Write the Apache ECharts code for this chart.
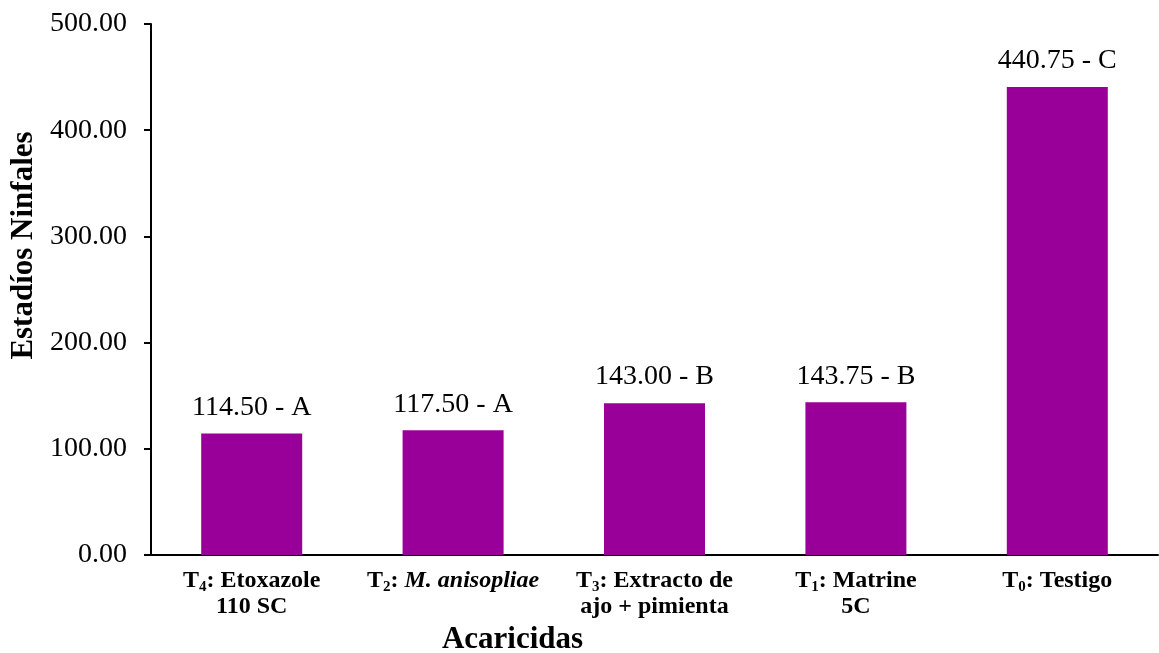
<!DOCTYPE html>
<html>
<head>
<meta charset="utf-8">
<script src="https://cdn.jsdelivr.net/npm/echarts@6/dist/echarts.min.js"></script>
<style>html,body{margin:0;padding:0;background:#fff}#c{width:1159px;height:653px}</style>
</head>
<body>
<div id="c"></div>
<script>
var categories = ['T4: Etoxazole\n110 SC', 'T2: M. anisopliae', 'T3: Extracto de\najo + pimienta', 'T1: Matrine\n5C', 'T0: Testigo'];
var values = [114.50, 117.50, 143.00, 143.75, 440.75];
var groups = ['A', 'A', 'B', 'B', 'C'];
var yTicks = [0, 100, 200, 300, 400, 500];

var FONT = '"Liberation Serif", "Times New Roman", serif';
function fmtCat(s) {
  var m = s.match(/^T(\d): ([\s\S]*)$/);
  if (!m) return s;
  var rest = m[2];
  if (rest.indexOf('M. anisopliae') === 0) {
    return '{b|T}{sub|' + m[1] + '}{b|: }{it|' + rest + '}';
  }
  var lines = rest.split('\n').map(function (l) { return '{b|' + l + '}'; });
  lines[0] = '{b|T}{sub|' + m[1] + '}{b|: }' + lines[0];
  return lines.join('\n');
}
var chart = echarts.init(document.getElementById('c'), null, {renderer: 'canvas'});
chart.setOption({
  animation: false,
  backgroundColor: '#fff',
  grid: {left: 151, right: 1, top: 24, bottom: 98, containLabel: false, outerBoundsMode: 'none'},
  xAxis: {
    type: 'category',
    data: categories,
    axisLine: {lineStyle: {color: '#000', width: 2}},
    axisTick: {show: false},
    axisLabel: {
      interval: 0,
      margin: 13,
      formatter: fmtCat,
      lineHeight: 26,
      rich: {
        b: {fontFamily: FONT, fontWeight: 'bold', fontSize: 24, color: '#000', lineHeight: 26},
        it: {fontFamily: FONT, fontWeight: 'bold', fontStyle: 'italic', fontSize: 24, color: '#000', lineHeight: 26},
        sub: {fontFamily: FONT, fontWeight: 'bold', fontSize: 15, color: '#000', verticalAlign: 'bottom', lineHeight: 26, padding: [0, 0, -1, 0]}
      }
    },
    name: 'Acaricidas',
    nameLocation: 'middle',
    nameGap: 68,
    nameTextStyle: {fontFamily: FONT, fontWeight: 'bold', fontSize: 31, color: '#000', padding: [0, 284, 0, 0]}
  },
  yAxis: {
    type: 'value',
    min: 0, max: 500, interval: 100,
    axisLine: {show: true, lineStyle: {color: '#000', width: 2}},
    axisTick: {show: true, length: 7, lineStyle: {color: '#000', width: 2}},
    splitLine: {show: false},
    axisLabel: {
      margin: 24,
      fontFamily: FONT, fontSize: 28, color: '#000',
      formatter: function (v) { return v.toFixed(2); }
    },
    name: 'Estadíos Ninfales',
    nameLocation: 'middle',
    nameGap: 110,
    nameRotate: 90,
    nameTextStyle: {fontFamily: FONT, fontWeight: 'bold', fontSize: 31, color: '#000', padding: [0, 0, 0, 88]}
  },
  series: [{
    type: 'bar',
    data: values,
    barWidth: 101,
    itemStyle: {color: '#990099'},
    label: {
      show: true,
      position: 'top',
      distance: 12,
      fontFamily: FONT, fontSize: 28, color: '#000',
      formatter: function (p) { return p.value.toFixed(2) + ' - ' + groups[p.dataIndex]; }
    }
  }]
});
</script>
</body>
</html>
